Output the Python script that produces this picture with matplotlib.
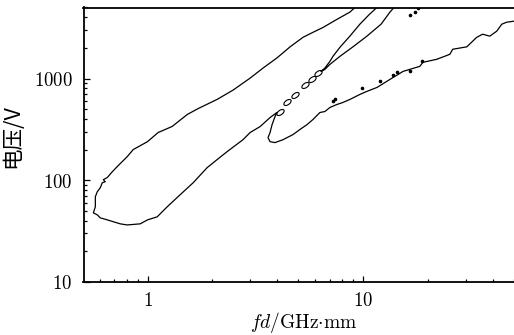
import matplotlib
matplotlib.use("Agg")
import matplotlib.pyplot as plt
from matplotlib.markers import MarkerStyle
from matplotlib.transforms import Affine2D

plt.rcParams.update({'font.size': 13.5, 'mathtext.fontset': 'cm'})

# main contour: upper branch, round the left nose, lower branch, then the lower band edge
main_x = [9.25, 8.67, 7.55, 6.51, 5.85, 5.26, 4.58, 3.98, 3.43, 2.99, 2.49, 2.10, 1.72, 1.53,
          1.30, 1.12, 1.00, 0.859, 0.805, 0.724, 0.687, 0.651, 0.624, 0.637, 0.617, 0.604,
          0.585, 0.573, 0.573, 0.561, 0.585, 0.604, 0.651, 0.748, 0.805, 0.925, 1.00, 1.109,
          1.234, 1.417, 1.628, 1.889, 2.10, 2.339, 2.774, 2.99, 3.33, 3.70, 3.98, 3.90, 3.78,
          3.70, 3.62, 3.70, 3.90, 4.25, 4.73, 5.09, 5.49, 5.85, 6.30, 6.64, 7.01, 7.55, 8.05,
          8.67, 9.65, 10.4, 11.6, 13.3, 15.3, 18.3, 18.9, 21.9, 25.2, 26.0, 30.2, 33.6, 35.8,
          38.6, 41.6, 43.9, 46.3, 50.0]
main_y = [5100, 4500, 3820, 3180, 2850, 2545, 2050, 1593, 1266, 1009, 768, 622, 507, 443,
          337, 294, 239, 200, 170, 136, 121, 106, 101, 96.4, 94.2, 84.1,
          76.8, 68.5, 54.6, 47.6, 45.5, 42.5, 40.6, 37.1, 36.2, 37.1, 40.6, 43.5,
          54.6, 71.8, 94.2, 132.5, 158.9, 190.6, 250.4, 294, 337, 413, 463, 422, 352,
          294, 262, 239, 234, 250, 281, 315, 352, 395, 463, 473, 519, 555, 581,
          622, 697, 747, 818, 980, 1175, 1318, 1443, 1545, 1730, 1941, 2050, 2545, 2731,
          2611, 2926, 3427, 3584, 3668]

# narrow band between the two regions (open at the top)
band_x = [11.7, 10.7, 9.65, 8.67, 7.80, 7.24, 7.01, 6.64, 6.37, 6.64, 7.01, 7.80, 8.96,
          10.4, 12.1, 13.3, 14.0]
band_y = [5100, 4295, 3427, 2611, 2029, 1653, 1476, 1266, 1175, 1230, 1378, 1653, 2050,
          2611, 3427, 4500, 5100]

# small closed islands along the band's lower end
loop_x = [4.12, 4.43, 4.83, 5.37, 5.78, 6.17]
loop_y = [473, 581, 681, 855, 980, 1122]

# tiny specks
speck_x = [17.9, 17.4, 16.4, 18.7, 16.4, 14.3, 13.7, 12.0, 9.86, 7.39, 7.24]
speck_y = [4920, 4500, 4200, 1476, 1175, 1148, 1074, 935, 798, 622, 594]

xticks = [1, 10]
xticklabels = ['$1$', '$10$']
yticks = [10, 100, 1000]
yticklabels = ['$10$', '$100$', '$1000$']

fig = plt.figure(figsize=(5.14, 3.35), dpi=100)
ax = fig.add_axes([83.5 / 514, 1 - 281.7 / 335, (514 - 83.5) / 514, (281.7 - 7.5) / 335])

ax.plot(main_x, main_y, color='black', lw=0.9)
ax.plot(band_x, band_y, color='black', lw=0.9)
ell = MarkerStyle('o', fillstyle='none', transform=Affine2D().scale(1.5, 0.8).rotate_deg(35))
ax.plot(loop_x, loop_y, ls='none', marker=ell, ms=4, mec='black', mew=0.8)
ax.plot(speck_x, speck_y, ls='none', marker='o', ms=1.6, color='black')

ax.set_xscale('log')
ax.set_yscale('log')
ax.set_xlim(0.505, 50)
ax.set_ylim(10, 5000)
ax.set_xticks(xticks)
ax.set_xticklabels(xticklabels)
ax.set_yticks(yticks)
ax.set_yticklabels(yticklabels)

ax.tick_params(which='both', direction='in', top=False, right=False, width=0.9)
ax.tick_params(which='major', length=4, pad=8)
ax.tick_params(axis='x', which='major', pad=7)
ax.tick_params(which='minor', length=2.5)
for s in ['left', 'bottom', 'top']:
    ax.spines[s].set_linewidth(1.3)
ax.spines['right'].set_visible(False)

ax.set_xlabel(r'$fd/\mathrm{GHz{\cdot}mm}$', fontsize=14)
ax.xaxis.set_label_coords(0.511, -0.105)
ax.set_ylabel('电压/V', family=['Noto Sans CJK SC', 'DejaVu Sans'], fontsize=15.5)
ax.yaxis.set_label_coords(-0.14, 0.53)

plt.savefig('out.png', dpi=100)
